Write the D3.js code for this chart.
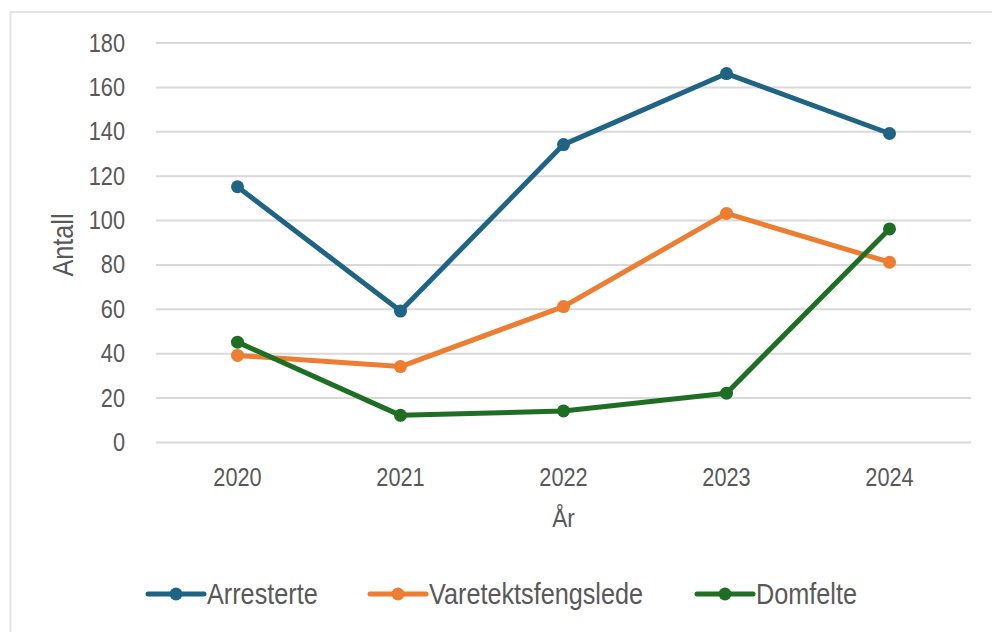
<!DOCTYPE html>
<html>
<head>
<meta charset="utf-8">
<script src="https://cdn.jsdelivr.net/npm/d3@7"></script>
<style>
  body { margin: 0; background: #ffffff; }
  #chart text { font-family: "Liberation Sans", Arial, sans-serif; fill: #595959; }
</style>
</head>
<body>
<div id="chart"></div>
<script>
// data
const years = ["2020", "2021", "2022", "2023", "2024"];
const arresterte = [115, 59, 134, 166, 139];
const varetekt = [39, 34, 61, 103, 81];
const domfelte = [45, 12, 14, 22, 96];
const seriesNames = ["Arresterte", "Varetektsfengslede", "Domfelte"];
const yTicks = [0, 20, 40, 60, 80, 100, 120, 140, 160, 180];

const colors = {
  Arresterte: "#1f6385",
  Varetektsfengslede: "#ed7d31",
  Domfelte: "#1e6f24",
  grid: "#d9d9d9",
  border: "#e3e3e3",
};

const width = 992, height = 632;
const plot = { left: 156, right: 971, top: 42.5, bottom: 442 };
const squeeze = 0.87; // text in the original is a narrow face

const svg = d3.select("#chart").append("svg")
  .attr("width", width)
  .attr("height", height);

// chart frame
svg.append("rect")
  .attr("x", 10.5).attr("y", 12)
  .attr("width", width).attr("height", height)
  .attr("fill", "none")
  .attr("stroke", colors.border)
  .attr("stroke-width", 2);

const x = d3.scaleBand().domain(years).range([plot.left, plot.right]);
const y = d3.scaleLinear().domain([0, 180]).range([plot.bottom, plot.top]);
const cx = (d) => x(d) + x.bandwidth() / 2;

// y axis with gridlines
const yAxis = d3.axisLeft(y)
  .tickValues(yTicks)
  .tickSize(-(plot.right - plot.left))
  .tickPadding(31);
const gy = svg.append("g")
  .attr("transform", `translate(${plot.left},0)`)
  .call(yAxis);
gy.select(".domain").remove();
gy.selectAll(".tick line").attr("stroke", colors.grid).attr("stroke-width", 2);
gy.selectAll(".tick text")
  .style("font-size", "25px")
  .attr("dy", "0.34em")
  .attr("x", 0)
  .attr("transform", `translate(-31,0) scale(${squeeze},1)`);

// x axis
const xAxis = d3.axisBottom(x).tickSize(0).tickPadding(26);
const gx = svg.append("g")
  .attr("transform", `translate(0,${plot.bottom})`)
  .call(xAxis);
gx.select(".domain").remove();
gx.selectAll(".tick text")
  .style("font-size", "25px")
  .attr("transform", `scale(${squeeze},1)`);

// axis titles
svg.append("text")
  .attr("transform", `translate(73,245) rotate(-90) scale(${squeeze},1)`)
  .attr("text-anchor", "middle")
  .style("font-size", "29px")
  .text("Antall");
svg.append("text")
  .attr("transform", `translate(${cx("2022")},527) scale(${squeeze},1)`)
  .attr("text-anchor", "middle")
  .style("font-size", "26px")
  .text("År");

// lines
const data = [arresterte, varetekt, domfelte];
const line = d3.line().x((d, i) => cx(years[i])).y((d) => y(d));

data.forEach((vals, k) => {
  const c = colors[seriesNames[k]];
  svg.append("path")
    .datum(vals)
    .attr("d", line)
    .attr("fill", "none")
    .attr("stroke", c)
    .attr("stroke-width", 5)
    .attr("stroke-linejoin", "round")
    .attr("stroke-linecap", "round");
  svg.selectAll(null)
    .data(vals)
    .enter()
    .append("circle")
    .attr("cx", (d, i) => cx(years[i]))
    .attr("cy", (d) => y(d))
    .attr("r", 6.5)
    .attr("fill", c);
});

// legend
const legendX = [148, 370, 697];
const legendY = 594;
seriesNames.forEach((name, k) => {
  const g = svg.append("g").attr("transform", `translate(${legendX[k]},${legendY})`);
  g.append("line")
    .attr("x1", 0).attr("x2", 56)
    .attr("y1", 0).attr("y2", 0)
    .attr("stroke", colors[name])
    .attr("stroke-width", 5)
    .attr("stroke-linecap", "round");
  g.append("circle").attr("cx", 28).attr("cy", 0).attr("r", 6.5).attr("fill", colors[name]);
  g.append("text")
    .attr("transform", `translate(59,0) scale(${squeeze},1)`)
    .attr("dy", "0.36em")
    .style("font-size", "29px")
    .text(name);
});
</script>
</body>
</html>
